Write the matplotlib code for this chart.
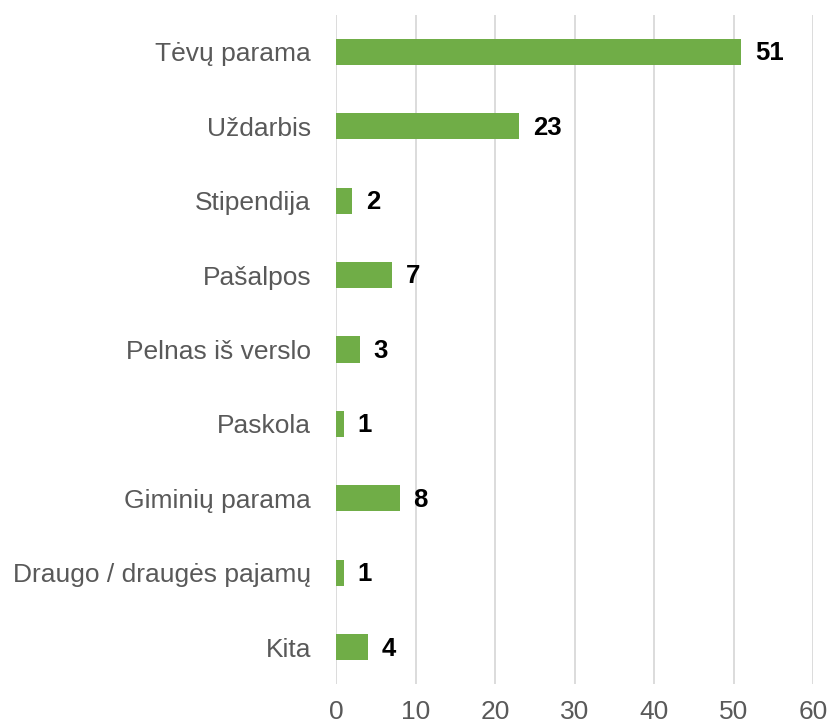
import matplotlib.pyplot as plt

plt.rcParams['font.family'] = ['Liberation Sans', 'DejaVu Sans']

# Income sources and respondent counts
categories = ["Tėvų parama", "Uždarbis", "Stipendija", "Pašalpos", "Pelnas iš verslo",
              "Paskola", "Giminių parama", "Draugo / draugės pajamų", "Kita"]
values = [51, 23, 2, 7, 3, 1, 8, 1, 4]
x_ticks = [0, 10, 20, 30, 40, 50, 60]

fig = plt.figure(figsize=(8.28, 7.25), dpi=100)
ax = fig.add_axes([0.4058, 0.0559, 0.5761, 0.9241])

pos = list(range(len(categories)))
ax.barh(pos, values, height=0.35, color="#70ad47", zorder=3)

for y, v in zip(pos, values):
    ax.annotate(str(v), (v, y), xytext=(10, -1), textcoords="offset points",
                ha="left", va="center", fontsize=18.5, fontweight="bold", color="black")

ax.set_yticks(pos)
ax.set_yticklabels(categories, fontsize=19, color="#595959")
ax.set_ylim(len(categories) - 0.5, -0.5)
ax.set_xlim(0, 60)
ax.set_xticks(x_ticks)
ax.set_xticklabels([str(t) for t in x_ticks], fontsize=19, color="#595959")
ax.tick_params(axis="y", length=0, pad=18)
ax.tick_params(axis="x", length=0, pad=11)
ax.grid(axis="x", color="#d9d9d9", linewidth=1.3, zorder=0)
for s in ax.spines.values():
    s.set_visible(False)

fig.savefig("out.png", dpi=100)
